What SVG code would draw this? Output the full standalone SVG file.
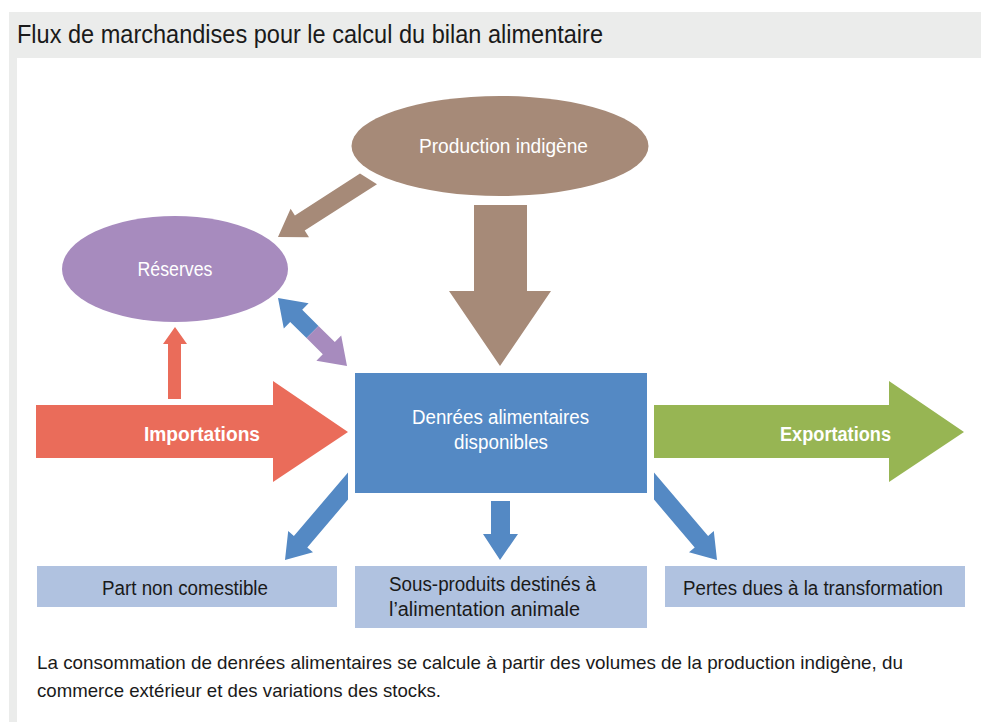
<svg xmlns="http://www.w3.org/2000/svg" width="981" height="722" viewBox="0 0 981 722">
<style>
text{font-family:"Liberation Sans",Arial,sans-serif;}
.t{font-size:20px;fill:#1a1a1a;}
.w{font-size:20px;fill:#ffffff;}
.wb{font-size:20px;fill:#ffffff;font-weight:bold;}
.brown{fill:#A68A78;}
.purple{fill:#A78BBE;}
.blue{fill:#5489C4;}
.red{fill:#EA6C5A;}
.green{fill:#97B553;}
.box{fill:#B0C2E0;}
</style>
<rect x="9" y="12" width="972" height="710" fill="#EBECEB"/>
<rect x="17" y="58" width="964" height="664" fill="#FFFFFF"/>
<text x="17" y="43" font-size="25" fill="#1a1a1a" textLength="586" lengthAdjust="spacingAndGlyphs">Flux de marchandises pour le calcul du bilan alimentaire</text>

<g id="connectors">
<polygon class="brown" points="474,205 527,205 527,291 551,291 500,366 449,291 474,291"/>
<polygon class="brown" points="360,173.5 294.9,215.4 290.6,208.7 278,237 309,237.3 304.7,230.6 377,184.2"/>
<polygon class="blue" points="278,298 308.6,303.3 302.2,309.8 318.5,325.9 306.5,338.1 290.2,321.9 283.8,328.5"/>
<polygon class="purple" points="347,366 341.2,335.5 334.8,342 318.5,325.9 306.5,338.1 322.8,354.2 316.4,360.7"/>
<polygon class="red" points="168,399 181,399 181,344 187,344 175,327 163,344 168,344"/>
<polygon class="blue" points="348,472.5 293.9,536 288.2,531.1 285,560 313,552.3 307.3,547.4 348,499.6"/>
<polygon class="blue" points="491,501 510,501 510,534 518,534 500,560 483,534 491,534"/>
<polygon class="blue" points="654,472.5 708.1,536 713.8,531.1 717,560 689,552.3 694.7,547.4 654,499.6"/>
</g>

<g id="importations">
<polygon class="red" points="36,405 273,405 273,381 348,432 273,482 273,458 36,458"/>
<text class="wb" x="144" y="441" textLength="116" lengthAdjust="spacingAndGlyphs">Importations</text>
</g>
<g id="exportations">
<polygon class="green" points="654,405 889,405 889,381 964,432 889,482 889,458 654,458"/>
<text class="wb" x="780" y="441" textLength="111" lengthAdjust="spacingAndGlyphs">Exportations</text>
</g>

<g id="production">
<ellipse class="brown" cx="500" cy="146" rx="148.5" ry="50"/>
<text class="w" x="503.5" y="153" text-anchor="middle" textLength="169" lengthAdjust="spacingAndGlyphs" fill="#F5F0EC">Production indigène</text>
</g>
<g id="reserves">
<ellipse class="purple" cx="175" cy="269" rx="113" ry="53"/>
<text class="w" x="175" y="276" text-anchor="middle" textLength="75" lengthAdjust="spacingAndGlyphs">Réserves</text>
</g>
<g id="denrees">
<rect class="blue" x="355" y="373" width="292" height="120"/>
<text class="w" x="500.5" y="424" text-anchor="middle" textLength="177" lengthAdjust="spacingAndGlyphs">Denrées alimentaires</text>
<text class="w" x="501" y="449" text-anchor="middle" textLength="94" lengthAdjust="spacingAndGlyphs">disponibles</text>
</g>
<g id="part">
<rect class="box" x="37" y="566" width="300" height="41"/>
<text class="t" x="102" y="595" textLength="166" lengthAdjust="spacingAndGlyphs">Part non comestible</text>
</g>
<g id="sousproduits">
<rect class="box" x="355" y="566" width="292" height="62"/>
<text class="t" x="389" y="591" textLength="207" lengthAdjust="spacingAndGlyphs">Sous-produits destinés à</text>
<text class="t" x="389" y="616" textLength="191" lengthAdjust="spacingAndGlyphs">l’alimentation animale</text>
</g>
<g id="pertes">
<rect class="box" x="665" y="566" width="300" height="41"/>
<text class="t" x="683" y="595" textLength="260" lengthAdjust="spacingAndGlyphs">Pertes dues à la transformation</text>
</g>

<text x="37" y="669" font-size="19" fill="#1a1a1a" textLength="866" lengthAdjust="spacingAndGlyphs">La consommation de denrées alimentaires se calcule à partir des volumes de la production indigène, du</text>
<text x="37" y="697" font-size="19" fill="#1a1a1a" textLength="404" lengthAdjust="spacingAndGlyphs">commerce extérieur et des variations des stocks.</text>
</svg>
